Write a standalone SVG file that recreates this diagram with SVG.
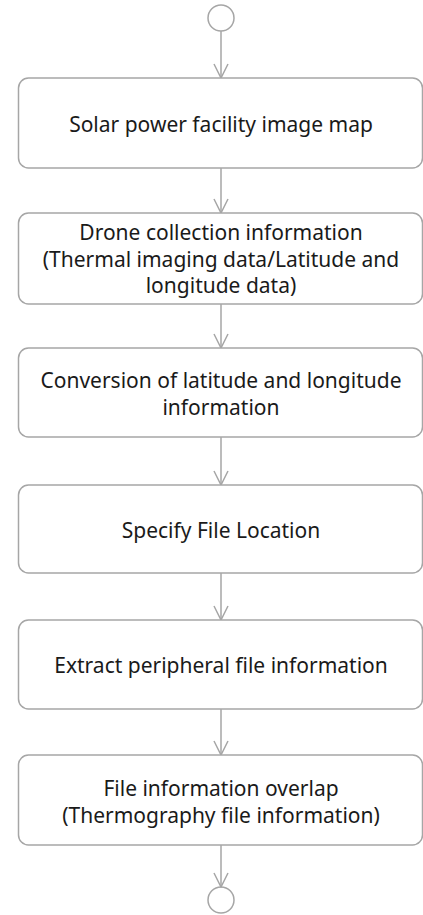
<svg xmlns="http://www.w3.org/2000/svg" width="423" height="915" viewBox="0 0 423 915">
<defs>
<style>
.box{fill:#fff;stroke:#a6a6a6;stroke-width:1.5}
.ln{fill:none;stroke:#a6a6a6;stroke-width:1.5}
.t{font-family:"Noto Sans","Noto Sans CJK KR",sans-serif;font-size:21px;fill:#1a1a1a;text-anchor:middle}
</style>
<marker id="ah" markerWidth="16" markerHeight="16" refX="15" refY="8" orient="auto" markerUnits="userSpaceOnUse" viewBox="0 0 16 16">
<path d="M1,1 L15,8 L1,15" fill="none" stroke="#a6a6a6" stroke-width="1.5"/>
</marker>
</defs>
<rect width="423" height="915" fill="#fff"/>
<g id="connectors">
<line class="ln" x1="221" y1="31" x2="221" y2="78" marker-end="url(#ah)"/>
<line class="ln" x1="221" y1="168" x2="221" y2="213" marker-end="url(#ah)"/>
<line class="ln" x1="221" y1="304" x2="221" y2="348" marker-end="url(#ah)"/>
<line class="ln" x1="221" y1="437" x2="221" y2="485" marker-end="url(#ah)"/>
<line class="ln" x1="221" y1="573" x2="221" y2="620" marker-end="url(#ah)"/>
<line class="ln" x1="221" y1="709" x2="221" y2="755" marker-end="url(#ah)"/>
<line class="ln" x1="221" y1="845" x2="221" y2="887" marker-end="url(#ah)"/>
</g>
<g id="start"><circle class="ln" cx="221" cy="18" r="13"/></g>
<g id="n1"><rect class="box" x="18.5" y="78" width="404" height="90" rx="10"/>
<text class="t" x="221" y="132">Solar power facility image map</text></g>
<g id="n2"><rect class="box" x="18.5" y="213" width="404" height="91" rx="10"/>
<text class="t" x="221" y="240">Drone collection information</text>
<text class="t" x="221" y="267">(Thermal imaging data/Latitude and</text>
<text class="t" x="221" y="293">longitude data)</text></g>
<g id="n3"><rect class="box" x="18.5" y="348" width="404" height="89" rx="10"/>
<text class="t" x="221" y="388">Conversion of latitude and longitude</text>
<text class="t" x="221" y="415">information</text></g>
<g id="n4"><rect class="box" x="18.5" y="485" width="404" height="88" rx="10"/>
<text class="t" x="221" y="538">Specify File Location</text></g>
<g id="n5"><rect class="box" x="18.5" y="620" width="404" height="89" rx="10"/>
<text class="t" x="221" y="673">Extract peripheral file information</text></g>
<g id="n6"><rect class="box" x="18.5" y="755" width="404" height="90" rx="10"/>
<text class="t" x="221" y="796">File information overlap</text>
<text class="t" x="221" y="823">(Thermography file information)</text></g>
<g id="end"><circle class="ln" cx="221" cy="900" r="13"/></g>
</svg>
